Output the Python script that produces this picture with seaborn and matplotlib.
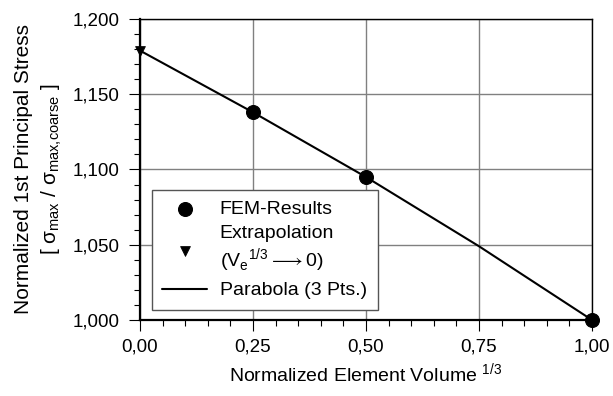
import matplotlib
matplotlib.use("Agg")
import matplotlib.pyplot as plt
import seaborn as sns
from matplotlib.ticker import MultipleLocator, FuncFormatter

# data
fem_x = [0.25, 0.50, 1.00]
fem_y = [1.138, 1.095, 1.000]
extra_x = [0.0]
extra_y = [1.179]
parabola_x = [0.0, 0.25, 0.50, 0.75, 1.00]
parabola_y = [1.179, 1.138, 1.095, 1.049, 1.000]

sns.set_style("white")
plt.rcParams["font.family"] = ["Liberation Sans", "DejaVu Sans"]
plt.rcParams["mathtext.fontset"] = "custom"
plt.rcParams["mathtext.rm"] = "Liberation Sans"
plt.rcParams["text.color"] = "black"
plt.rcParams["axes.labelcolor"] = "black"
plt.rcParams["xtick.color"] = "black"
plt.rcParams["ytick.color"] = "black"
fs = 14

fig = plt.figure(figsize=(6.13, 3.96), dpi=100)
ax = fig.add_axes([140 / 613, 1 - 320 / 396, 452 / 613, 301 / 396])

sns.lineplot(x=parabola_x, y=parabola_y, ax=ax, color="black", linewidth=1.5,
             label="Parabola (3 Pts.)", zorder=3)
sns.scatterplot(x=fem_x, y=fem_y, ax=ax, color="black", marker="o", s=100,
                edgecolor="black", label="FEM-Results", zorder=4, clip_on=False)
sns.scatterplot(x=extra_x, y=extra_y, ax=ax, color="black", marker="v", s=50,
                edgecolor="black",
                label="Extrapolation\n(V$_{\\mathregular{e}}$$^{\\mathregular{1/3}}$"
                      "${\\longrightarrow}$0)",
                zorder=4, clip_on=False)

ax.set_xlim(0, 1)
ax.set_ylim(1.0, 1.2)
ax.xaxis.set_major_locator(MultipleLocator(0.25))
ax.xaxis.set_minor_locator(MultipleLocator(0.05))
ax.yaxis.set_major_locator(MultipleLocator(0.05))
ax.yaxis.set_minor_locator(MultipleLocator(0.01))
ax.xaxis.set_major_formatter(FuncFormatter(lambda v, p: f"{v:.2f}".replace(".", ",")))
ax.yaxis.set_major_formatter(FuncFormatter(lambda v, p: f"{v:.3f}".replace(".", ",")))
ax.tick_params(which="major", direction="out", length=8, width=0.8,
               labelsize=13.5, bottom=True, left=True)
ax.tick_params(which="minor", direction="out", length=4, width=0.8,
               bottom=True, left=True)
ax.tick_params(axis="y", which="major", pad=7)
ax.tick_params(axis="x", which="major", pad=5)
ax.grid(True, which="major", color="#808080", linewidth=1)

for side in ["top", "right"]:
    ax.spines[side].set_linewidth(1)
    ax.spines[side].set_color("black")
for side in ["left", "bottom"]:
    ax.spines[side].set_linewidth(1.6)
    ax.spines[side].set_color("black")

ax.set_xlabel("Normalized Element Volume $^{\\mathregular{1/3}}$", fontsize=fs, labelpad=5)
ax.set_ylabel("Normalized 1st Principal Stress\n"
              "[ \u03c3$_{\\mathregular{max}}$ / \u03c3$_{\\mathregular{max{,}coarse}}$ ]",
              fontsize=15, labelpad=6, linespacing=1.35)

handles, labels = ax.get_legend_handles_labels()
order = [1, 2, 0]
leg = ax.legend([handles[i] for i in order], [labels[i] for i in order],
                loc="lower left", bbox_to_anchor=(0.026, 0.033), borderaxespad=0,
                fontsize=fs, frameon=True, fancybox=False, framealpha=1,
                edgecolor="#555555", handlelength=2.3, borderpad=0.55,
                labelspacing=0.35, handletextpad=0.65)
leg.get_frame().set_linewidth(1)

fig.savefig("out.png", dpi=100)
